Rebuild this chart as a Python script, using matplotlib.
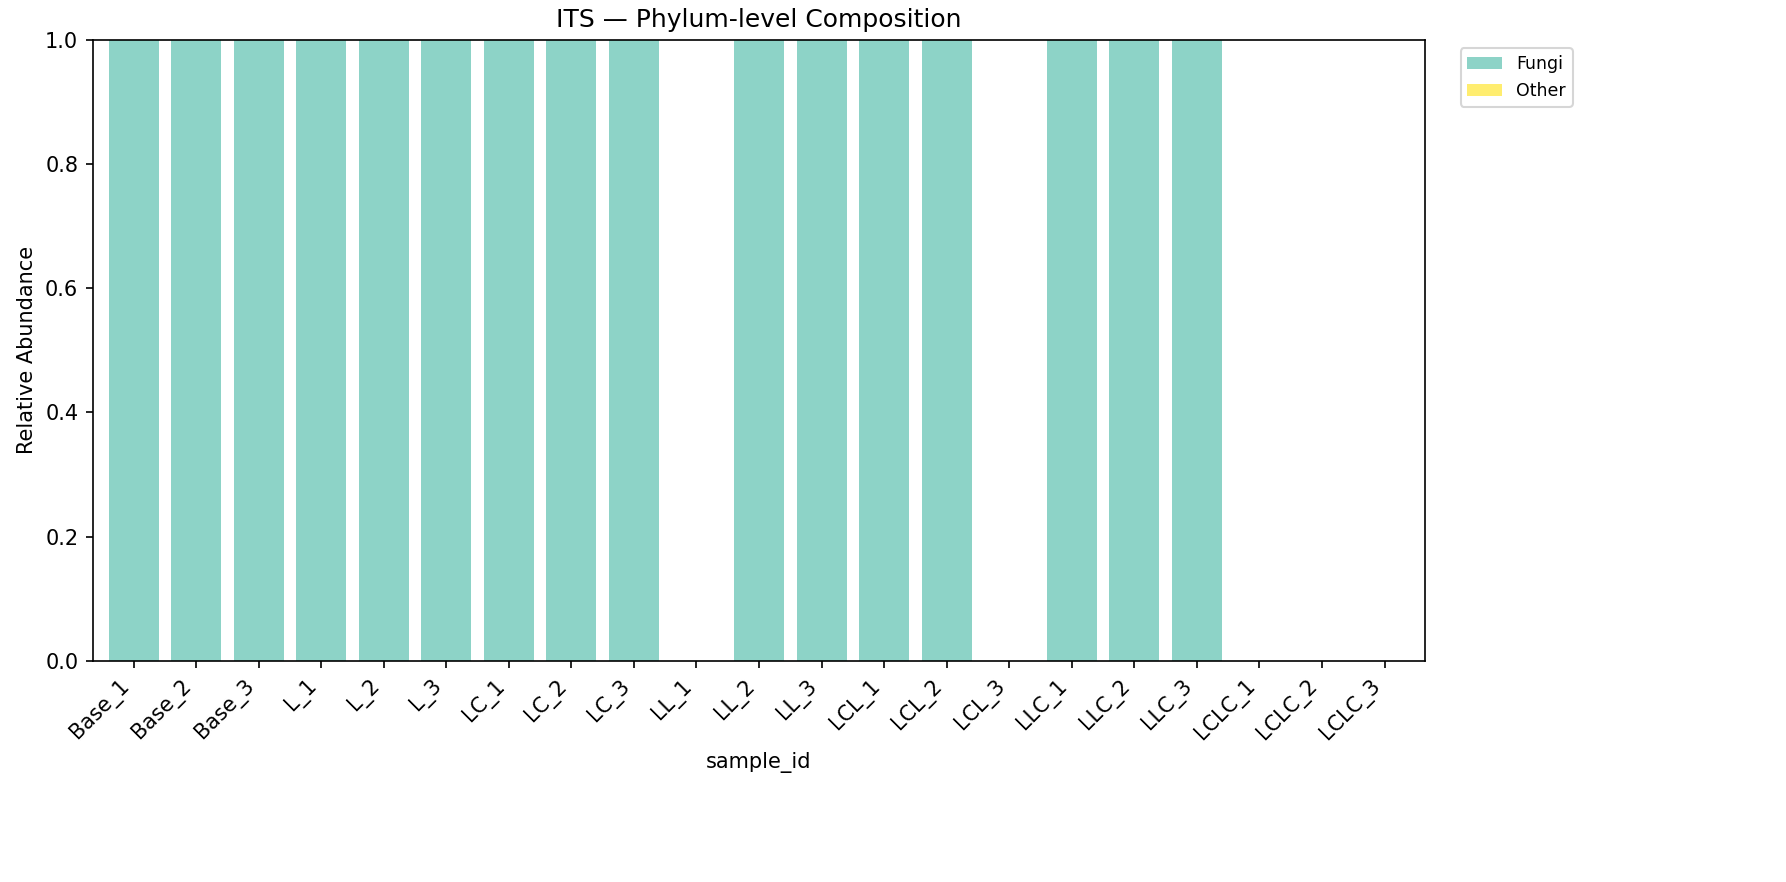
import pandas as pd
import matplotlib
matplotlib.use("Agg")
import matplotlib.pyplot as plt

samples = ["Base_1", "Base_2", "Base_3", "L_1", "L_2", "L_3",
           "LC_1", "LC_2", "LC_3", "LL_1", "LL_2", "LL_3",
           "LCL_1", "LCL_2", "LCL_3", "LLC_1", "LLC_2", "LLC_3",
           "LCLC_1", "LCLC_2", "LCLC_3"]
fungi = [1, 1, 1, 1, 1, 1, 1, 1, 1, 0, 1, 1, 1, 1, 0, 1, 1, 1, 0, 0, 0]
other = [0] * len(samples)


def main():
    df = pd.DataFrame({"Fungi": fungi, "Other": other},
                      index=pd.Index(samples, name="sample_id"))

    fig, ax = plt.subplots(figsize=(1786 / 150, 882 / 150), dpi=150)
    df.plot(kind="bar", stacked=True, colormap="Set3", width=0.8, ax=ax)

    ax.set_ylim(0, 1)
    ax.set_ylabel("Relative Abundance")
    ax.set_xlabel("sample_id")
    ax.set_title("ITS — Phylum-level Composition")
    plt.setp(ax.get_xticklabels(), rotation=45, ha="right")
    ax.legend(bbox_to_anchor=(1.02, 1), loc="upper left", fontsize="small")

    fig.subplots_adjust(left=0.052, right=0.798, top=0.955, bottom=0.2506)
    fig.savefig("out.png", dpi=150)


if __name__ == "__main__":
    main()
